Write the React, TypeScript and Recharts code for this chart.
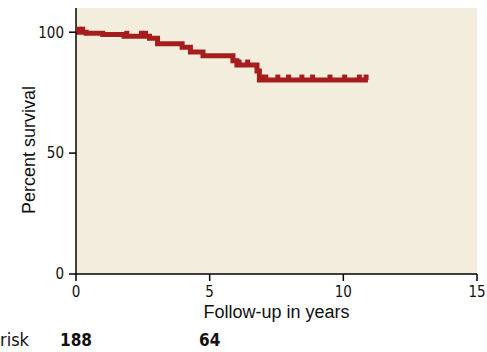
import React from 'react';
import { ComposedChart, Line, XAxis, YAxis, CartesianGrid } from 'recharts';

// Kaplan-Meier steps (years, % surviving, 1 = censored tick)
const kmYears = [0, 0.1, 0.25, 0.38, 1.0, 1.8, 1.9, 2.45, 2.6, 2.75, 3.05, 3.97, 4.28, 4.75, 5.87, 6.02, 6.1, 6.42, 6.77, 6.86, 6.95, 7.1, 7.55, 7.95, 8.45, 8.85, 9.5, 10.05, 10.6, 10.85, 10.92];
const kmSurvival = [100, 100, 100, 99.6, 99.0, 98.3, 98.3, 98.3, 98.3, 97.5, 95.2, 93.8, 91.8, 90.3, 88.2, 86.4, 86.4, 86.4, 83.9, 80.2, 80.2, 80.2, 80.2, 80.2, 80.2, 80.2, 80.2, 80.2, 80.2, 80.2, 80.2];
const kmCensored = [0, 1, 1, 0, 0, 0, 1, 1, 1, 0, 0, 0, 0, 0, 0, 0, 1, 1, 0, 0, 1, 1, 1, 1, 1, 1, 1, 1, 1, 1, 0];

const xTicks = [0, 5, 10, 15];
const yTicks = [0, 50, 100];

const atRiskYears = [0, 5];
const atRiskCounts = [188, 64];

const data = kmYears.map((t, i) => ({ t, survival: kmSurvival[i], censored: kmCensored[i] }));

const RED = '#a61d1d';
const narrow = '"Liberation Sans Narrow", "DejaVu Sans Condensed", sans-serif';
const sans = '"Liberation Sans", Arial, sans-serif';

const CensorTick = (props: any) => {
  const { cx, cy, payload, index } = props;
  if (!payload?.censored) return <g key={index} />;
  return <rect key={index} x={cx - 2.5} y={cy - 5.5} width={5} height={5.5} fill={RED} />;
};

const RiskTick = (props: any) => {
  const { x, y, payload } = props;
  const i = atRiskYears.indexOf(payload.value);
  return (
    <text x={x} y={y} textAnchor="middle" dy={14} fontFamily={narrow} fontWeight="bold" fontSize={17} fill="#111">
      {i >= 0 ? atRiskCounts[i] : ''}
    </text>
  );
};

export default function App() {
  return (
    <div style={{ position: 'absolute', left: 0, top: 0, width: 487, height: 352, background: '#fff' }}>
      <ComposedChart width={487} height={352} data={data} margin={{ top: 8, right: 10, bottom: 0, left: 0 }}>
        <CartesianGrid fill="#f2eddc" stroke="none" horizontal={false} vertical={false} />
        <XAxis
          dataKey="t"
          type="number"
          domain={[0, 15]}
          ticks={xTicks}
          height={50}
          tickSize={7}
          tickMargin={5}
          axisLine={{ stroke: '#000', strokeWidth: 1.5 }}
          tickLine={{ stroke: '#000', strokeWidth: 1.5 }}
          tick={{ fill: '#111', fontSize: 15, fontFamily: narrow }}
          label={{ value: 'Follow-up in years', position: 'insideBottom', offset: 6, fill: '#111', fontSize: 18, fontFamily: sans }}
        />
        <XAxis
          xAxisId="risk"
          dataKey="t"
          type="number"
          domain={[0, 15]}
          ticks={atRiskYears}
          height={28}
          axisLine={false}
          tickLine={false}
          tick={<RiskTick />}
        />
        <YAxis
          type="number"
          domain={[0, 110]}
          ticks={yTicks}
          width={76}
          tickSize={7}
          tickMargin={5}
          axisLine={{ stroke: '#000', strokeWidth: 1.5 }}
          tickLine={{ stroke: '#000', strokeWidth: 1.5 }}
          tick={{ fill: '#111', fontSize: 15, fontFamily: narrow }}
          label={{
            content: () => (
              <text x={35} y={150} transform="rotate(-90 35 150)" textAnchor="middle" fill="#111" fontSize={18} fontFamily={sans}>
                Percent survival
              </text>
            ),
          }}
        />
        <Line
          type="stepAfter"
          dataKey="survival"
          stroke={RED}
          strokeWidth={5}
          dot={<CensorTick />}
          activeDot={false}
          isAnimationActive={false}
        />
      </ComposedChart>
      <div style={{ position: 'absolute', left: 0, top: 330, fontFamily: narrow, fontSize: 18, color: '#111', lineHeight: '20px' }}>
        risk
      </div>
    </div>
  );
}
